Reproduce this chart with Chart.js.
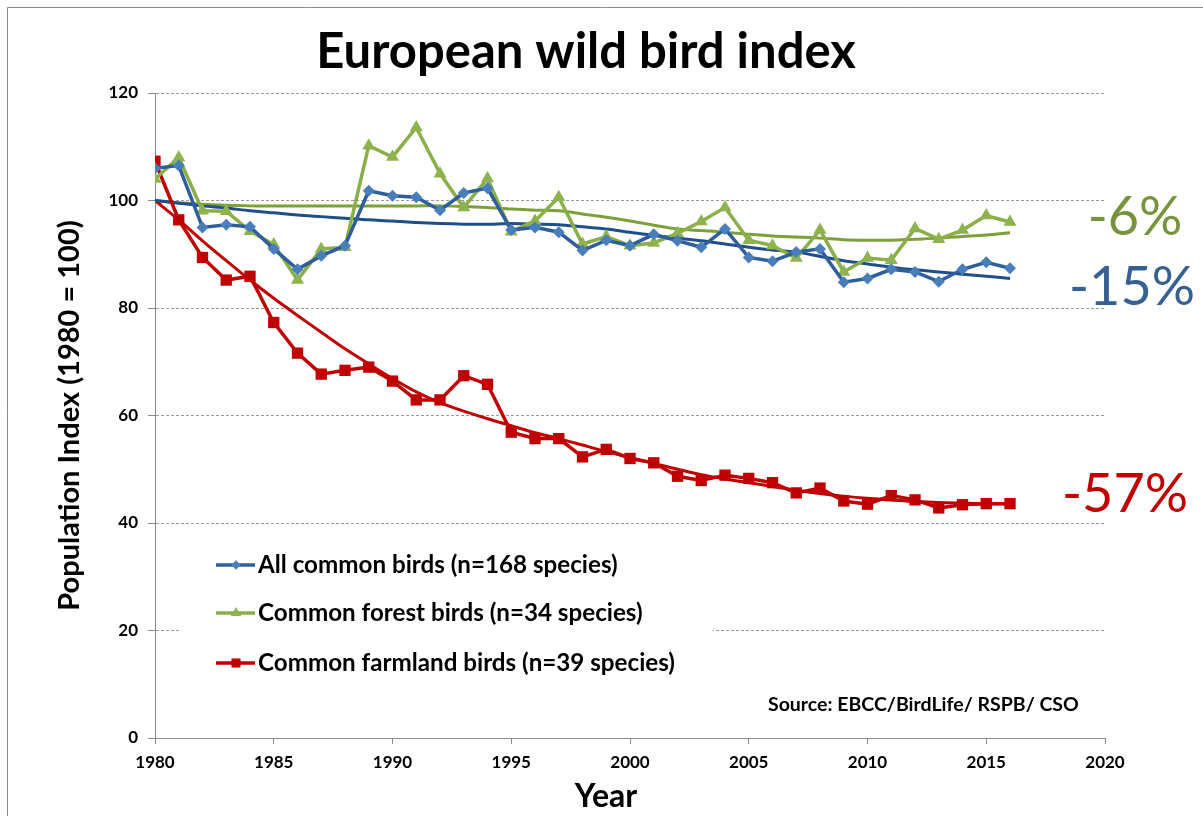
<!DOCTYPE html>
<html>
<head>
<meta charset="utf-8">
<script src="https://cdn.jsdelivr.net/npm/chart.js@4.4.1/dist/chart.umd.min.js"></script>
<style>
  html, body { margin: 0; padding: 0; background: #fff; }
  #wrap { width: 1203px; height: 816px; position: relative; }
</style>
</head>
<body>
<div id="wrap"><canvas id="c" width="1203" height="816"></canvas></div>
<script>
const years = [1980,1981,1982,1983,1984,1985,1986,1987,1988,1989,1990,1991,1992,1993,1994,1995,1996,1997,1998,1999,2000,2001,2002,2003,2004,2005,2006,2007,2008,2009,2010,2011,2012,2013,2014,2015,2016];

const allBirds = [106.0,106.5,95.0,95.5,95.1,91.0,87.2,89.7,91.6,101.8,100.9,100.6,98.2,101.4,102.3,94.5,95.0,94.1,90.7,92.6,91.6,93.7,92.5,91.3,94.7,89.4,88.7,90.4,91.0,84.8,85.5,87.2,86.7,84.9,87.2,88.5,87.4];
const allTrend = [100,99.5,99.0,98.6,98.1,97.7,97.3,97.0,96.7,96.4,96.2,95.9,95.7,95.6,95.6,95.7,95.6,95.5,95.1,94.7,94.1,93.5,93.0,92.5,91.9,91.3,90.8,90.4,89.6,88.8,88.2,87.6,87.1,86.7,86.3,85.9,85.5];

const forest = [104.0,108.0,98.1,98.0,94.3,91.8,85.2,91.0,91.3,110.2,108.1,113.6,105.0,98.7,104.1,94.2,96.2,100.6,91.9,93.3,91.6,92.1,93.9,96.1,98.7,92.6,91.6,89.3,94.5,86.7,89.3,88.9,94.8,92.8,94.5,97.2,96.0];
const forestTrend = [100,99.6,99.3,99.1,99.0,99.0,99.0,99.0,99.0,99.0,99.0,99.0,99.0,98.9,98.7,98.4,98.2,98.1,97.5,96.9,96.2,95.4,94.7,94.4,94.1,93.7,93.4,93.2,93.0,92.7,92.6,92.6,92.8,93.0,93.3,93.6,94.0];

const farmland = [107.3,96.4,89.4,85.2,85.9,77.3,71.6,67.7,68.4,69.0,66.4,62.9,62.9,67.4,65.8,56.9,55.7,55.7,52.3,53.7,52.0,51.2,48.7,47.9,48.9,48.3,47.5,45.6,46.5,44.1,43.5,45.1,44.3,42.8,43.4,43.6,43.6];
const farmlandTrend = [100,96.4,92.5,88.8,85.2,81.8,78.6,75.5,72.4,69.6,66.9,64.4,62.4,60.8,59.4,58.1,56.8,55.7,54.5,53.3,52.2,51.1,50.0,49.0,48.2,47.5,46.8,46.1,45.5,45.0,44.6,44.3,44.0,43.8,43.7,43.6,43.6];

const seriesNames = ["All common birds (n=168 species)", "Common forest birds (n=34 species)", "Common farmland birds (n=39 species)"];
const changeLabels = ["-15%", "-6%", "-57%"];
const yTicks = [0,20,40,60,80,100,120];
const xTicks = [1980,1985,1990,1995,2000,2005,2010,2015,2020];
const chartTitle = "European wild bird index";
const yTitle = "Population Index (1980 = 100)";
const xTitle = "Year";
const sourceText = "Source: EBCC/BirdLife/ RSPB/ CSO";

const pts = arr => years.map((y, i) => ({x: y, y: arr[i]}));

const BLUE_LINE = '#2F5F9A', BLUE_MARK = '#4A7EBB', BLUE_TREND = '#1F4F8A';
const GREEN_LINE = '#8AAE48', GREEN_MARK = '#8DB34E', GREEN_TREND = '#7EA03A';
const RED = '#C00000';

const FONT = "Lato, 'Open Sans', 'DejaVu Sans', sans-serif";

const styles = [
  {line: BLUE_LINE, mark: BLUE_MARK, pointStyle: 'rectRot', r: 6},
  {line: GREEN_LINE, mark: GREEN_MARK, pointStyle: 'triangle', r: 7.5},
  {line: RED, mark: RED, pointStyle: 'rect', r: 8}
];

function drawMarker(ctx, style, x, y, r) {
  ctx.save();
  ctx.fillStyle = style.mark;
  ctx.beginPath();
  if (style.pointStyle === 'rectRot') {
    ctx.moveTo(x, y - r); ctx.lineTo(x + r, y); ctx.lineTo(x, y + r); ctx.lineTo(x - r, y);
  } else if (style.pointStyle === 'triangle') {
    ctx.moveTo(x, y - r); ctx.lineTo(x + r * 0.866, y + r * 0.5); ctx.lineTo(x - r * 0.866, y + r * 0.5);
  } else {
    const s = r * Math.SQRT1_2;
    ctx.rect(x - s, y - s, 2 * s, 2 * s);
  }
  ctx.closePath();
  ctx.fill();
  ctx.restore();
}

const decor = {
  id: 'decor',
  afterDatasetsDraw(chart) {
    const ctx = chart.ctx;
    ctx.save();
    ctx.fillStyle = '#fff';
    ctx.fillRect(181, 540, 532, 148);
    const rows = [565, 613, 663];
    rows.forEach((ry, i) => {
      const st = styles[i];
      ctx.strokeStyle = st.line;
      ctx.lineWidth = 3.5;
      ctx.beginPath(); ctx.moveTo(216, ry); ctx.lineTo(255, ry); ctx.stroke();
      drawMarker(ctx, st, 236, ry, st.r * 0.8);
      ctx.fillStyle = '#000';
      ctx.font = "bold 24.2px " + FONT;
      ctx.textAlign = 'left';
      ctx.textBaseline = 'middle';
      ctx.fillText(seriesNames[i], 258, ry);
    });
    ctx.restore();
  },
  afterDraw(chart) {
    const ctx = chart.ctx;
    ctx.save();
    ctx.strokeStyle = '#8a8a8a';
    ctx.lineWidth = 1;
    ctx.beginPath();
    ctx.moveTo(7.5, 816); ctx.lineTo(7.5, 7.5); ctx.lineTo(1203, 7.5);
    ctx.stroke();
    ctx.fillStyle = '#000';
    ctx.textAlign = 'center';
    ctx.textBaseline = 'middle';
    ctx.font = "bold 49px " + FONT;
    ctx.fillText(chartTitle, 586, 52);
    ctx.font = "bold 32px " + FONT;
    ctx.fillText(xTitle, 606, 797);
    ctx.font = "bold 19.5px " + FONT;
    ctx.textAlign = 'left';
    ctx.fillText(sourceText, 768, 705);
    ctx.font = "54px " + FONT;
    ctx.textAlign = 'center';
    ctx.fillStyle = '#376092'; ctx.fillText(changeLabels[0], 1132, 288);
    ctx.fillStyle = '#77933C'; ctx.fillText(changeLabels[1], 1135, 218);
    ctx.fillStyle = RED; ctx.fillText(changeLabels[2], 1125, 495);
    ctx.restore();
  }
};

function dataset(label, arr, st, isTrend) {
  return {
    label: label,
    data: pts(arr),
    borderColor: isTrend ? (st === styles[0] ? BLUE_TREND : st === styles[1] ? GREEN_TREND : RED) : st.line,
    backgroundColor: st.mark,
    borderWidth: isTrend ? 3 : 3.5,
    pointRadius: isTrend ? 0 : st.r,
    pointHoverRadius: isTrend ? 0 : st.r,
    pointStyle: st.pointStyle,
    pointBackgroundColor: st.mark,
    pointBorderColor: st.mark,
    pointBorderWidth: 0,
    tension: isTrend ? 0.3 : 0,
    fill: false,
    order: isTrend ? 1 : 0
  };
}

new Chart(document.getElementById('c'), {
  type: 'line',
  data: {
    datasets: [
      dataset(seriesNames[0] + ' trend', allTrend, styles[0], true),
      dataset(seriesNames[1] + ' trend', forestTrend, styles[1], true),
      dataset(seriesNames[2] + ' trend', farmlandTrend, styles[2], true),
      dataset(seriesNames[0], allBirds, styles[0], false),
      dataset(seriesNames[1], forest, styles[1], false),
      dataset(seriesNames[2], farmland, styles[2], false)
    ]
  },
  options: {
    responsive: false,
    animation: false,
    devicePixelRatio: 1,
    layout: { padding: { top: 93, right: 98, left: 0, bottom: 0 } },
    plugins: {
      legend: { display: false },
      title: { display: false },
      tooltip: { enabled: false }
    },
    scales: {
      x: {
        type: 'linear',
        min: 1980, max: 2020,
        afterBuildTicks: s => { s.ticks = xTicks.map(v => ({value: v})); },
        afterFit: s => { s.height = 78; },
        ticks: { color: '#000', font: { family: FONT, size: 17, weight: 'bold' }, padding: 8, maxRotation: 0, callback: v => String(v) },
        grid: { drawOnChartArea: false, drawTicks: true, tickLength: 6, color: '#8a8a8a' },
        border: { display: true, color: '#8a8a8a', width: 1 }
      },
      y: {
        min: 0, max: 120,
        afterBuildTicks: s => { s.ticks = yTicks.map(v => ({value: v})); },
        afterFit: s => { s.width = 155; },
        ticks: { color: '#000', font: { family: FONT, size: 17, weight: 'bold' }, padding: 10 },
        grid: {
          drawOnChartArea: true, drawTicks: true, tickLength: 7,
          color: ctx => ctx.tick && ctx.tick.value === 0 ? 'rgba(0,0,0,0)' : '#9a9a9a',
          tickColor: '#8a8a8a', tickBorderDash: []
        },
        border: { display: true, color: '#8a8a8a', width: 1, dash: [3, 2] },
        title: {
          display: true, text: yTitle, color: '#000',
          font: { family: FONT, size: 29, weight: 'bold' },
          padding: { top: 52, bottom: 0 }
        }
      }
    }
  },
  plugins: [decor]
});
</script>
</body>
</html>
